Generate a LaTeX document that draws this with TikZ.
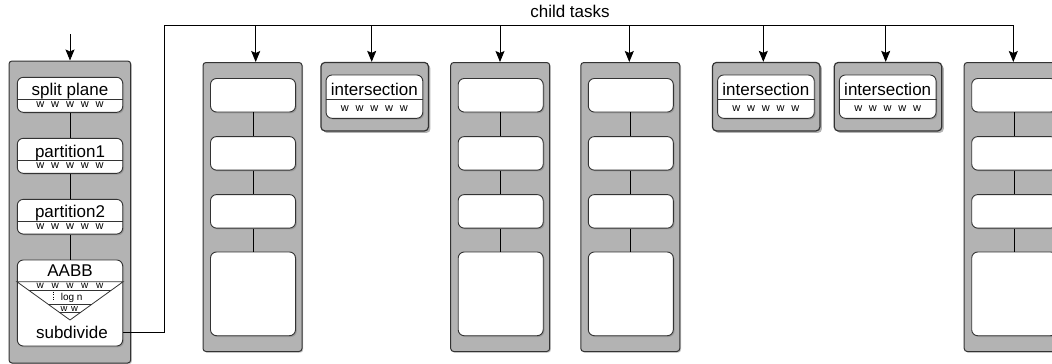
\documentclass[tikz,border=0pt]{standalone}
\usepackage{fontspec}
\setmainfont{Liberation Sans}
\usetikzlibrary{arrows.meta,shadows}
\definecolor{colgray}{HTML}{B3B3B3}
\definecolor{edge}{HTML}{333333}
\newcommand\wrow[2]{{\fontsize{#1}{#1}\selectfont w\hspace{#2}w\hspace{#2}w\hspace{#2}w\hspace{#2}w}}
\tikzset{
  graycol/.style={draw=edge, fill=colgray, line width=1pt, rounded corners=3pt, inner sep=0pt,
    drop shadow={shadow xshift=1.2pt, shadow yshift=-1.2pt, opacity=0.45}},
  intcol/.style={draw=edge, fill=colgray, line width=1.2pt, rounded corners=4pt, inner sep=0pt,
    drop shadow={shadow xshift=2pt, shadow yshift=-2pt, opacity=0.6}},
  cell/.style={draw=edge, fill=white, line width=0.9pt, rounded corners=6pt, inner sep=0pt,
    drop shadow={shadow xshift=1.3pt, shadow yshift=-1.3pt, opacity=0.5}},
  lbl/.style={font=\fontsize{17}{17}\selectfont, inner sep=0pt, anchor=base},
  small/.style={inner sep=0pt, anchor=base},
  conn/.style={draw=black, line width=0.9pt},
  arr/.style={conn, -{Stealth[length=11pt,width=9pt,inset=2pt]}},
}
\newcommand\taskcol[3]{%
  \node[graycol, minimum width=99, minimum height=289] (#1) at (#2,207) {};
  \node[cell, minimum width=85, minimum height=33.5] (#1a) at (#2+0.5,95.25) {};
  \node[cell, minimum width=85, minimum height=33.5] (#1b) at (#2+0.5,153.35) {};
  \node[cell, minimum width=85, minimum height=33.5] (#1c) at (#2+0.5,211.35) {};
  \node[cell, minimum width=85, minimum height=83.7] (#1d) at (#2+0.5,293.85) {};
  \draw[conn] (#1a.south) -- (#1b.north);
  \draw[conn] (#1b.south) -- (#1c.north);
  \draw[conn] (#1c.south) -- (#1d.north);
  \coordinate (#1arr) at (#3,0);
}
\newcommand\intbox[3]{%
  \node[intcol, minimum width=107.5, minimum height=68.5] (#1) at (#2,96.7) {};
  \node[cell, minimum width=96.7, minimum height=43.3] (#1i) at (#2-0.3,96.65) {};
  \draw[conn, draw=edge] (#1i.west |- 0,99.3) -- (#1i.east |- 0,99.3);
  \node[lbl] (#1t) at (#2-0.3,95.3) {intersection};
  \node[small] (#1w) at (#2-0.3,111.5) {\wrow{11}{6.8pt}};
  \coordinate (#1arr) at (#3,0);
}
\begin{document}
\begin{tikzpicture}[x=1pt,y=-1pt]
\useasboundingbox (0,0) rectangle (1052,364);

% left column
\node[graycol, minimum width=121.7, minimum height=302] (L) at (69.85,212) {};
\node[cell, minimum width=105.4, minimum height=35] (sp) at (70,94.8) {};
\node[cell, minimum width=105.4, minimum height=35] (p1) at (70,155.8) {};
\node[cell, minimum width=105.4, minimum height=34.7] (p2) at (70,216.7) {};
\node[cell, minimum width=105.4, minimum height=86] (ab) at (70,303) {};
\draw[conn] (sp.south) -- (p1.north);
\draw[conn] (p1.south) -- (p2.north);
\draw[conn] (p2.south) -- (ab.north);

\draw[conn, draw=edge] (sp.west |- 0,99.3) -- (sp.east |- 0,99.3);
\draw[conn, draw=edge] (p1.west |- 0,160.7) -- (p1.east |- 0,160.7);
\draw[conn, draw=edge] (p2.west |- 0,221) -- (p2.east |- 0,221);
\node[lbl] (tsp) at (70,95.7) {split plane};
\node[lbl] (tp1) at (70,157) {partition1};
\node[lbl] (tp2) at (70,217.4) {partition2};
\node[small] (wsp) at (70,107.5) {\wrow{11}{6.9pt}};
\node[small] (wp1) at (70,168.8) {\wrow{11}{6.9pt}};
\node[small] (wp2) at (70,229.2) {\wrow{11}{6.9pt}};

% AABB box contents
\node[lbl] (tab) at (70,276) {AABB};
\draw[conn, draw=edge, line width=0.8pt] (ab.west |- 0,281.7) -- (70,320) -- (ab.east |- 0,281.7) -- cycle;
\draw[conn, draw=edge, line width=0.7pt] (28.7,290) -- (111.3,290);
\draw[conn, draw=edge, line width=0.7pt] (48.4,304.3) -- (91.6,304.3);
\draw[conn, draw=edge, line width=0.7pt] (59.4,312.3) -- (80.6,312.3);
\node[small] (wab) at (70,288.5) {\wrow{10}{7.6pt}};
\draw[black, line width=1pt, dash pattern=on 1pt off 1.6pt] (53.3,291.5) -- (53.3,301.5);
\node[small] (logn) at (71.7,300.7) {\fontsize{10}{10}\selectfont log n};
\node[small] (ww) at (69.3,311.2) {\fontsize{9.5}{9.5}\selectfont w\hspace{3.5pt}w};
\node[lbl] (subd) at (72,338) {subdivide};

% child columns
\taskcol{ca}{252.5}{255.7}
\intbox{cb}{374.7}{371.7}
\taskcol{cc}{500.2}{500}
\taskcol{cd}{630.3}{629.3}
\intbox{ce}{766.2}{763.3}
\intbox{cf}{888}{885.7}
\taskcol{cg}{1013.7}{1013.3}

% input arrow
\coordinate (inp) at (70,34);
\draw[arr] (inp) -- (inp |- L.north);

% bus
\path (ab.east) ++(0,29) coordinate (subout);
\coordinate (bc) at (164.7,25.7);
\node[lbl] (ct) at (570,17.5) {child tasks};
\draw[arr] (subout) -| (bc) -- (bc -| cgarr) -- (cgarr |- cg.north);
\draw[arr] (caarr |- bc) -- (caarr |- ca.north);
\draw[arr] (cbarr |- bc) -- (cbarr |- cb.north);
\draw[arr] (ccarr |- bc) -- (ccarr |- cc.north);
\draw[arr] (cdarr |- bc) -- (cdarr |- cd.north);
\draw[arr] (cearr |- bc) -- (cearr |- ce.north);
\draw[arr] (cfarr |- bc) -- (cfarr |- cf.north);
\end{tikzpicture}
\end{document}
